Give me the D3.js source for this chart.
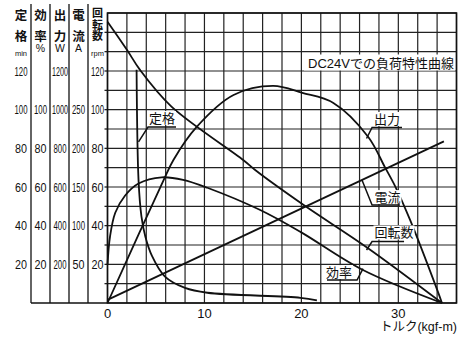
<!DOCTYPE html>
<html><head><meta charset="utf-8">
<script src="https://cdn.jsdelivr.net/npm/d3@7"></script>
<style>body{margin:0;background:#fff}text{font-family:"Liberation Sans","Noto Sans CJK JP",sans-serif;fill:#111}</style>
</head><body>
<svg id="c" width="470" height="338"></svg>
<script>
// ---- data ----
const torqueTicks = [0, 10, 20, 30];
const minTicks = [20, 40, 60, 80, 100, 120];
const effTicks = [20, 40, 60, 80, 100];
const wattTicks = [200, 400, 600, 800, 1000, 1200];
const ampTicks = [50, 100, 150, 200, 250];
const rpmTicks = [20, 40, 60, 80, 100, 120];

// [torque kgf-m, value]
const rpmData = [[0,145.5],[2,131],[3.35,120.6],[6.6,101.6],[14,74],[15.2,68.9],[20.2,50.8],[26.8,28.6],[34.5,0]];
const outputData = [[0,0],[3.35,370],[5.8,637],[6.8,740],[9.2,911],[13,1076],[17.1,1123],[20.1,1087],[23.3,1035],[26.9,859],[28.6,704],[29.7,601],[31.2,431],[34,69],[34.5,0]];
const currentData = [[0,4],[34.7,209]];
const effData = [[0,19.8],[0.26,34.4],[0.8,46.7],[1.8,55.5],[3.2,61.8],[5.6,65],[7.8,63.7],[10.3,59.6],[15.7,48.2],[19.9,36.8],[26.3,17.2],[34.5,0]];
const ratedData = [[3.0,120.6],[3.2,63.7],[3.5,44.8],[3.9,34.4],[4.6,24.2],[5.9,13.8],[8.0,7.8],[10.3,5.3],[19.9,2.7],[21.6,1.3]];

const title = "DC24Vでの負荷特性曲線";
const xTitle = "トルク(kgf-m)";

// ---- scales ----
const svg = d3.select('#c');
const x = d3.scaleLinear().domain([0, 36]).range([107.5, 456.5]);
const yRpm = d3.scaleLinear().domain([0, 150]).range([303, 13]);
const yMin = yRpm.copy();
const yEff = yRpm.copy();
const yW = d3.scaleLinear().domain([0, 1500]).range([303, 13]);
const yA = d3.scaleLinear().domain([0, 375]).range([303, 13]);

// ---- grid ----
const g = svg.append('g');
g.selectAll('.vg').data(d3.range(0, 37, 2)).join('line')
  .attr('x1', d => x(d)).attr('x2', d => x(d)).attr('y1', yRpm(150)).attr('y2', yRpm(0))
  .attr('stroke', '#222').attr('stroke-width', 1.2);
g.selectAll('.hg').data(d3.range(0, 151, 10)).join('line')
  .attr('y1', d => yRpm(d)).attr('y2', d => yRpm(d)).attr('x1', x(0)).attr('x2', x(36))
  .attr('stroke', '#222').attr('stroke-width', 1.2);
g.append('rect').attr('x', x(0)).attr('y', yRpm(150)).attr('width', x(36) - x(0)).attr('height', yRpm(0) - yRpm(150))
  .attr('fill', 'none').attr('stroke', '#111').attr('stroke-width', 1.6);

// left tick marks on rpm border
g.selectAll('.lt').data(d3.range(10, 150, 10)).join('line')
  .attr('x1', x(0) - 3).attr('x2', x(0)).attr('y1', d => yRpm(d)).attr('y2', d => yRpm(d))
  .attr('stroke', '#111').attr('stroke-width', 1.2);

// ---- left axis columns ----
const colEdges = [31, 50, 69, 88];
colEdges.forEach(cx => svg.append('line').attr('x1', cx).attr('x2', cx).attr('y1', 4).attr('y2', 303)
  .attr('stroke', '#111').attr('stroke-width', 1.3));
svg.append('line').attr('x1', 31).attr('x2', x(0)).attr('y1', 303).attr('y2', 303).attr('stroke', '#111').attr('stroke-width', 1.3);

const cols = [
  {cx: 21, ticks: minTicks, s: yMin, head: '定格', unit: 'min', unitSmall: true},
  {cx: 40.5, ticks: effTicks, s: yEff, head: '効率', unit: '%', unitSmall: false},
  {cx: 60, ticks: wattTicks, s: yW, head: '出力', unit: 'W', unitSmall: false},
  {cx: 78.5, ticks: ampTicks, s: yA, head: '電流', unit: 'A', unitSmall: false},
  {cx: 97.5, ticks: rpmTicks, s: yRpm, head: '回転数', unit: 'rpm', unitSmall: true}
];
cols.forEach(c => {
  const gg = svg.append('g');
  // narrow (condensed) tick numbers
  gg.selectAll('text.t').data(c.ticks).join('text')
    .attr('text-anchor', 'middle').attr('font-size', 13)
    .text(d => d)
    .each(function(d) {
      const len = this.getComputedTextLength();
      const target = String(d).length === 2 ? 12 : (String(d).length === 3 ? 13 : 16);
      d3.select(this).attr('transform', `translate(${c.cx},${c.s(d) + 4.5}) scale(${target / len},1)`);
    });
  // vertical header
  const three = c.head.length === 3;
  gg.append('text').attr('x', c.cx).attr('y', three ? 7.5 : 8.5)
    .style('writing-mode', 'vertical-rl')
    .style('font-family', '"Noto Sans CJK JP"')
    .attr('font-weight', 'bold')
    .attr('font-size', three ? 11 : 12.5)
    .attr('letter-spacing', three ? 0.5 : 9)
    .text(c.head);
  gg.append('text').attr('x', c.cx).attr('y', c.unitSmall ? 56 : 52)
    .attr('text-anchor', 'middle').attr('font-size', c.unitSmall ? 7.5 : 10.5)
    .text(c.unit);
});

// ---- x axis labels ----
svg.selectAll('.xl').data(torqueTicks).join('text')
  .attr('x', d => x(d)).attr('y', 318).attr('text-anchor', 'middle').attr('font-size', 13).text(d => d);
svg.append('text').attr('x', 457).attr('y', 331).attr('text-anchor', 'end').attr('font-size', 12.5).text(xTitle);

// ---- title ----
svg.append('rect').attr('x', 304).attr('y', 54.5).attr('width', 151).attr('height', 16).attr('fill', '#fff');
svg.append('text').attr('x', 308).attr('y', 68).attr('font-size', 13).text(title);

// ---- curves ----
const cg = svg.append('g').attr('fill', 'none').attr('stroke', '#111').attr('stroke-width', 1.8);
const mk = s => d3.line().x(d => x(d[0])).y(d => s(d[1])).curve(d3.curveCatmullRom.alpha(0.5));
cg.append('path').attr('d', mk(yRpm)(rpmData));
cg.append('path').attr('d', mk(yW)(outputData));
cg.append('path').attr('d', d3.line().x(d => x(d[0])).y(d => yA(d[1]))(currentData));
cg.append('path').attr('d', mk(yEff)(effData));
cg.append('path').attr('d', mk(yMin)(ratedData));

// ---- curve labels (data coordinates: torque, rpm-scale units) ----
const notes = [
  {t: '定格', tx: 5.62, ty: 93.1, u0: 4.18, u1: 7.07, uy: 91.0, px: 3.2, py: 83.3},
  {t: '出力', tx: 28.83, ty: 92.6, u0: 27.29, u1: 30.38, uy: 90.8, px: 26.72, py: 85.1},
  {t: '電流', tx: 28.88, ty: 52.2, u0: 27.29, u1: 30.17, uy: 50.7, px: 26.25, py: 63.6},
  {t: '回転数', tx: 29.55, ty: 33.9, u0: 27.29, u1: 30.59, uy: 31.8, px: 26.72, py: 27.4},
  {t: '効率', tx: 23.88, ty: 13.4, u0: 22.64, u1: 25.74, uy: 11.9, px: 26.36, py: 17.8, right: true}
];
notes.forEach(n => {
  const w = n.t.length * 13;
  svg.append('rect').attr('x', x(n.tx) - w / 2 - 1).attr('y', yRpm(n.ty) - 12).attr('width', w + 2).attr('height', 14).attr('fill', '#fff');
  svg.append('text').attr('x', x(n.tx)).attr('y', yRpm(n.ty)).attr('text-anchor', 'middle')
    .attr('font-size', 13).style('font-family', '"Noto Sans CJK JP"').text(n.t);
  const sx = n.right ? n.u1 : n.u0;
  svg.append('path').attr('fill', 'none').attr('stroke', '#111').attr('stroke-width', 1.5)
    .attr('d', `M${x(n.right ? n.u0 : n.u1)},${yRpm(n.uy)}L${x(sx)},${yRpm(n.uy)}L${x(n.px)},${yRpm(n.py)}`);
});
</script>
</body></html>
